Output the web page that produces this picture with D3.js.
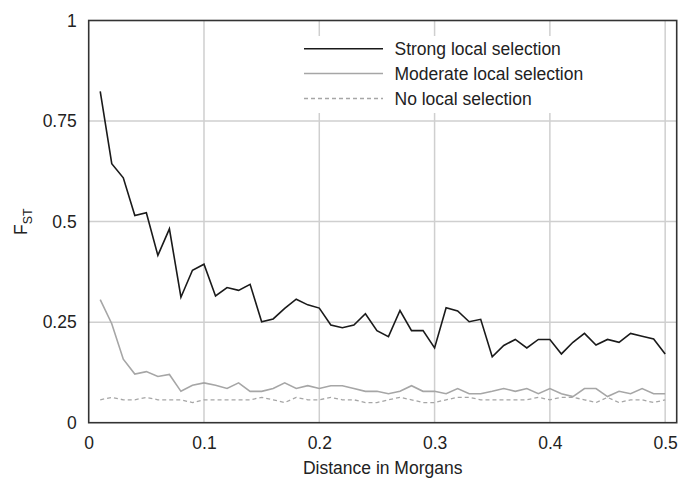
<!DOCTYPE html>
<html>
<head>
<meta charset="utf-8">
<script src="https://cdn.jsdelivr.net/npm/d3@7"></script>
<style>
  body { margin: 0; background: #fff; }
  text { font-family: "Liberation Sans", Arial, sans-serif; fill: #222; }
</style>
</head>
<body>
<div id="chart"></div>
<script>

// distance in Morgans for each sample
var distances = [
  0.01, 0.02, 0.03, 0.04, 0.05, 0.06, 0.07, 0.08, 0.09, 0.10,
  0.11, 0.12, 0.13, 0.14, 0.15, 0.16, 0.17, 0.18, 0.19, 0.20,
  0.21, 0.22, 0.23, 0.24, 0.25, 0.26, 0.27, 0.28, 0.29, 0.30,
  0.31, 0.32, 0.33, 0.34, 0.35, 0.36, 0.37, 0.38, 0.39, 0.40,
  0.41, 0.42, 0.43, 0.44, 0.45, 0.46, 0.47, 0.48, 0.49, 0.50
];

var strongFst = [
  0.824, 0.644, 0.609, 0.515, 0.522, 0.416, 0.482, 0.312, 0.379, 0.394,
  0.315, 0.336, 0.329, 0.344, 0.251, 0.258, 0.284, 0.307, 0.293, 0.285,
  0.243, 0.236, 0.243, 0.271, 0.229, 0.214, 0.279, 0.229, 0.229, 0.186,
  0.286, 0.278, 0.251, 0.257, 0.164, 0.192, 0.207, 0.186, 0.207, 0.207,
  0.171, 0.200, 0.222, 0.193, 0.207, 0.200, 0.222, 0.215, 0.208, 0.171
];

var moderateFst = [
  0.306, 0.246, 0.158, 0.121, 0.127, 0.115, 0.120, 0.078, 0.093, 0.099,
  0.093, 0.085, 0.099, 0.078, 0.078, 0.085, 0.099, 0.085, 0.092, 0.085,
  0.092, 0.092, 0.085, 0.078, 0.078, 0.072, 0.078, 0.092, 0.078, 0.078,
  0.072, 0.085, 0.072, 0.072, 0.078, 0.085, 0.078, 0.085, 0.072, 0.085,
  0.072, 0.065, 0.085, 0.085, 0.065, 0.078, 0.072, 0.085, 0.072, 0.072
];

var noneFst = [
  0.057, 0.063, 0.057, 0.057, 0.063, 0.057, 0.057, 0.057, 0.050, 0.057,
  0.057, 0.057, 0.057, 0.057, 0.063, 0.057, 0.050, 0.063, 0.057, 0.057,
  0.063, 0.057, 0.057, 0.050, 0.050, 0.057, 0.063, 0.057, 0.050, 0.050,
  0.057, 0.063, 0.063, 0.057, 0.057, 0.057, 0.057, 0.057, 0.063, 0.057,
  0.063, 0.063, 0.057, 0.050, 0.063, 0.050, 0.057, 0.057, 0.050, 0.057
];

var seriesNames = ["Strong local selection", "Moderate local selection", "No local selection"];
var xTicks = [0, 0.1, 0.2, 0.3, 0.4, 0.5];
var yTicks = [0, 0.25, 0.5, 0.75, 1];
var yTickLabels = ["0", "0.25", "0.5", "0.75", "1"];

var width = 680, height = 480;
var margin = { top: 20.5, right: 3.3, bottom: 57.3, left: 88.7 };
var innerW = width - margin.left - margin.right;
var innerH = height - margin.top - margin.bottom;

// line styles per series
var styles = [
  { color: "#1a1a1a", width: 1.6, dash: null },
  { color: "#a6a6a6", width: 1.6, dash: null },
  { color: "#a6a6a6", width: 1.3, dash: "4,3" }
];

var svg = d3.select("#chart").append("svg")
  .attr("width", width)
  .attr("height", height);

var g = svg.append("g")
  .attr("transform", "translate(" + margin.left + "," + margin.top + ")");

var x = d3.scaleLinear().domain([0, 0.51]).range([0, innerW]);
var y = d3.scaleLinear().domain([0, 1]).range([innerH, 0]);

// gridlines
g.append("g").selectAll("line")
  .data(xTicks.filter(function(d) { return d > 0; }))
  .enter().append("line")
    .attr("x1", function(d) { return x(d); })
    .attr("x2", function(d) { return x(d); })
    .attr("y1", 0)
    .attr("y2", innerH)
    .style("stroke", "#cfcfcf")
    .style("stroke-width", 1.5);

g.append("g").selectAll("line")
  .data(yTicks.filter(function(d) { return d > 0 && d < 1; }))
  .enter().append("line")
    .attr("x1", 0)
    .attr("x2", innerW)
    .attr("y1", function(d) { return y(d); })
    .attr("y2", function(d) { return y(d); })
    .style("stroke", "#cfcfcf")
    .style("stroke-width", 1.5);

// axes (labels only, the frame is drawn separately)
var xAxis = g.append("g")
  .attr("transform", "translate(0," + innerH + ")")
  .call(d3.axisBottom(x).tickValues(xTicks).tickSize(0).tickPadding(14)
    .tickFormat(d3.format("")));
xAxis.select(".domain").remove();
xAxis.selectAll("text")
  .style("font-size", "17.5px")
  .style("font-family", "'Liberation Sans', Arial, sans-serif")
  .attr("fill", "#222");

var yAxis = g.append("g")
  .call(d3.axisLeft(y).tickValues(yTicks).tickSize(0).tickPadding(12)
    .tickFormat(function(d, i) { return yTickLabels[i]; }));
yAxis.select(".domain").remove();
yAxis.selectAll("text")
  .style("font-size", "17.5px")
  .style("font-family", "'Liberation Sans', Arial, sans-serif")
  .attr("fill", "#222");

// data lines
var line = d3.line()
  .x(function(d) { return x(d[0]); })
  .y(function(d) { return y(d[1]); });

[strongFst, moderateFst, noneFst].forEach(function(values, s) {
  var pts = distances.map(function(d, i) { return [d, values[i]]; });
  g.append("path")
    .datum(pts)
    .attr("d", line)
    .style("fill", "none")
    .style("stroke", styles[s].color)
    .style("stroke-width", styles[s].width)
    .style("stroke-dasharray", styles[s].dash)
    .style("stroke-linejoin", "miter");
});

// legend, white box hides the grid behind it
var legend = g.append("g");
legend.append("rect")
  .attr("x", 292 - margin.left)
  .attr("y", 36 - margin.top)
  .attr("width", 305)
  .attr("height", 77)
  .style("fill", "#fff");

var rowY = [48.7, 73.5, 98.5];
seriesNames.forEach(function(name, i) {
  var ry = rowY[i] - margin.top;
  legend.append("line")
    .attr("x1", 304 - margin.left)
    .attr("x2", 383 - margin.left)
    .attr("y1", ry)
    .attr("y2", ry)
    .style("stroke", styles[i].color)
    .style("stroke-width", styles[i].width)
    .style("stroke-dasharray", styles[i].dash);
  legend.append("text")
    .attr("x", 394.5 - margin.left)
    .attr("y", ry + 6.2)
    .style("font-size", "17.5px")
    .text(name);
});

// frame
g.append("rect")
  .attr("x", 0)
  .attr("y", 0)
  .attr("width", innerW)
  .attr("height", innerH)
  .style("fill", "none")
  .style("stroke", "#333")
  .style("stroke-width", 1.6);

// axis titles
g.append("text")
  .attr("x", innerW / 2)
  .attr("y", 474 - margin.top)
  .attr("text-anchor", "middle")
  .style("font-size", "17.5px")
  .text("Distance in Morgans");

var yTitle = g.append("text")
  .attr("transform", "translate(" + (27 - margin.left) + "," + (innerH / 2) + ") rotate(-90)")
  .attr("text-anchor", "middle")
  .style("font-size", "17.5px");
yTitle.append("tspan").text("F");
yTitle.append("tspan")
  .attr("dy", 5)
  .style("font-size", "12.5px")
  .text("ST");

</script>
</body>
</html>
